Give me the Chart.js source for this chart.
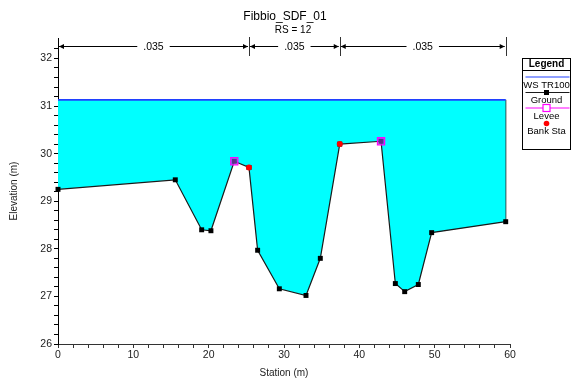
<!DOCTYPE html>
<html>
<head>
<meta charset="utf-8">
<script src="https://cdn.jsdelivr.net/npm/chart.js@4.4.1/dist/chart.umd.min.js"></script>
<style>
  html, body { margin: 0; padding: 0; background: #fff; }
  #wrap { width: 574px; height: 383px; }
</style>
</head>
<body>
<div id="wrap"><canvas id="xsChart" width="574" height="383"></canvas></div>
<script>
// cross section data
const stations   = [0, 15.57, 19.07, 20.3, 23.4, 25.35, 26.5, 29.38, 32.92, 34.82, 37.4, 42.88, 44.78, 46.02, 47.83, 49.6, 59.43];
const elevations = [29.25, 29.45, 28.40, 28.38, 29.84, 29.71, 27.97, 27.16, 27.02, 27.80, 30.20, 30.26, 27.27, 27.10, 27.25, 28.34, 28.57];
const leveeSta   = [23.4, 42.88];
const leveeElev  = [29.84, 30.26];
const bankSta    = [25.35, 37.4];
const bankElev   = [29.71, 30.20];
const wsElev     = 31.13;
const nBreaks    = [0, 25.35, 37.4, 59.43];
const nValues    = ['.035', '.035', '.035'];

const FONT = '"Liberation Sans", Arial, sans-serif';
const last = stations.length - 1;

const groundPts = stations.map((s, i) => ({ x: s, y: elevations[i] }));
const wsPts = [{ x: stations[0], y: wsElev }, { x: stations[last], y: wsElev }];
const wallPts = [{ x: stations[last], y: elevations[last] }, { x: stations[last], y: wsElev }];
const leveePts = leveeSta.map((s, i) => ({ x: s, y: leveeElev[i] }));
const bankPts = bankSta.map((s, i) => ({ x: s, y: bankElev[i] }));

function arrowHead(ctx, x, y, dir) {
  ctx.beginPath();
  ctx.moveTo(x, y);
  ctx.lineTo(x - dir * 5, y - 2.5);
  ctx.lineTo(x - dir * 5, y + 2.5);
  ctx.closePath();
  ctx.fill();
}

// manning's n bar + titles above the plot
const topTexts = {
  id: 'topTexts',
  afterDraw(chart) {
    const ctx = chart.ctx;
    const xs = chart.scales.x;
    ctx.save();
    ctx.fillStyle = '#000';
    ctx.textAlign = 'center';
    ctx.textBaseline = 'middle';
    ctx.font = '12px ' + FONT;
    ctx.fillText('Fibbio_SDF_01', 285, 17);
    ctx.font = '10px ' + FONT;
    ctx.fillText('RS = 12', 293, 30);

    const y = 46.5;
    ctx.strokeStyle = '#000';
    ctx.lineWidth = 1;
    for (let i = 0; i < nValues.length; i++) {
      const a = xs.getPixelForValue(nBreaks[i]);
      const b = xs.getPixelForValue(nBreaks[i + 1]);
      const mid = (a + b) / 2;
      ctx.font = '10.5px ' + FONT;
      const tw = ctx.measureText(nValues[i]).width / 2 + 6;
      ctx.beginPath();
      ctx.moveTo(a + 1, y); ctx.lineTo(mid - tw, y);
      ctx.moveTo(mid + tw, y); ctx.lineTo(b - 1, y);
      ctx.stroke();
      arrowHead(ctx, a + 1, y, -1);
      arrowHead(ctx, b - 1, y, 1);
      ctx.fillText(nValues[i], mid, y + 1);
    }
    ctx.strokeStyle = '#333';
    for (let i = 1; i < nBreaks.length; i++) {
      const p = Math.round(xs.getPixelForValue(nBreaks[i])) + 0.5;
      ctx.beginPath();
      ctx.moveTo(p, 37); ctx.lineTo(p, 56);
      ctx.stroke();
    }
    ctx.restore();
  }
};

// boxed legend on the right
const boxLegend = {
  id: 'boxLegend',
  afterDraw(chart) {
    const ctx = chart.ctx;
    const L = 522.5, R = 570.5, T = 58.5, B = 149.5;
    const cx = (L + R) / 2;
    ctx.save();
    ctx.fillStyle = '#fff';
    ctx.fillRect(L, T, R - L, B - T);
    ctx.strokeStyle = '#000';
    ctx.lineWidth = 1;
    ctx.strokeRect(L, T, R - L, B - T);
    ctx.beginPath(); ctx.moveTo(L, 70.5); ctx.lineTo(R, 70.5); ctx.stroke();
    ctx.fillStyle = '#000';
    ctx.textAlign = 'center';
    ctx.textBaseline = 'middle';
    ctx.font = 'bold 10px ' + FONT;
    ctx.fillText('Legend', cx, 64.5);

    const ds = chart.data.datasets;
    const rows = [
      { d: ds[0], y: 77, line: true },
      { d: ds[1], y: 92.5, line: true, mark: 'fillsq' },
      { d: ds[3], y: 108, line: true, mark: 'opensq' },
      { d: ds[4], y: 123.5, line: false, mark: 'dot' }
    ];
    rows.forEach(r => {
      if (r.line) {
        ctx.strokeStyle = r.d.borderColor;
        ctx.lineWidth = 1;
        ctx.beginPath(); ctx.moveTo(L + 3, r.y); ctx.lineTo(R - 1, r.y); ctx.stroke();
      }
      if (r.mark === 'fillsq') {
        ctx.fillStyle = '#000';
        ctx.fillRect(cx - 2.5, r.y - 2.5, 5, 5);
      } else if (r.mark === 'opensq') {
        ctx.fillStyle = '#fff';
        ctx.fillRect(cx - 3.5, r.y - 3.5, 7, 7);
        ctx.strokeStyle = r.d.pointBorderColor;
        ctx.lineWidth = 1.2;
        ctx.strokeRect(cx - 3.5, r.y - 3.5, 7, 7);
      } else if (r.mark === 'dot') {
        ctx.fillStyle = r.d.pointBackgroundColor;
        ctx.beginPath(); ctx.arc(cx, r.y, 2.8, 0, Math.PI * 2); ctx.fill();
      }
      ctx.fillStyle = '#000';
      ctx.font = '9.5px ' + FONT;
      ctx.fillText(r.d.label, cx, r.y + 8);
    });
    ctx.restore();
  }
};

const ctx = document.getElementById('xsChart').getContext('2d');
new Chart(ctx, {
  type: 'line',
  data: {
    datasets: [
      {
        label: 'WS TR100',
        data: wsPts,
        borderColor: '#2040ff',
        borderWidth: 1.6,
        pointRadius: 0,
        fill: false,
        order: 1
      },
      {
        label: 'Ground',
        data: groundPts,
        borderColor: '#1a1a1a',
        borderWidth: 1.2,
        backgroundColor: '#00ffff',
        fill: { value: wsElev },
        pointStyle: 'rect',
        pointRadius: 3.5,
        pointBackgroundColor: '#000',
        pointBorderColor: '#000',
        pointBorderWidth: 0,
        clip: false,
        order: 2
      },
      {
        label: 'wall',
        data: wallPts,
        borderColor: '#1a1a1a',
        borderWidth: 1.2,
        pointRadius: 0,
        fill: false,
        order: 3
      },
      {
        label: 'Levee',
        data: leveePts,
        showLine: false,
        borderColor: '#ff00ff',
        pointStyle: 'rect',
        pointRadius: 5,
        pointBackgroundColor: 'rgba(150,80,230,0.6)',
        pointBorderColor: '#ff00ff',
        pointBorderWidth: 1.3,
        order: 0
      },
      {
        label: 'Bank Sta',
        data: bankPts,
        showLine: false,
        borderColor: '#ff0000',
        pointStyle: 'circle',
        pointRadius: 3,
        pointBackgroundColor: '#ff0000',
        pointBorderColor: '#ff0000',
        pointBorderWidth: 0,
        order: -1
      }
    ]
  },
  options: {
    responsive: false,
    animation: false,
    layout: { padding: { top: 38, right: 64, left: 0, bottom: 0 } },
    plugins: {
      legend: { display: false },
      tooltip: { enabled: false }
    },
    elements: { line: { tension: 0 } },
    scales: {
      x: {
        type: 'linear',
        min: 0,
        max: 60,
        afterFit(s) { s.height = 39; },
        border: { display: true, color: '#333', width: 1 },
        grid: { display: true, drawOnChartArea: false, drawTicks: true, tickLength: 4, color: '#333' },
        ticks: {
          stepSize: 2,
          autoSkip: false,
          maxRotation: 0,
          padding: 1,
          color: '#222',
          font: { family: FONT, size: 10.5 },
          callback: v => (v % 10 === 0 ? v : '')
        },
        title: {
          display: true,
          text: 'Station (m)',
          color: '#222',
          font: { family: FONT, size: 10 },
          padding: { top: 0, bottom: 4 }
        }
      },
      y: {
        min: 26,
        max: 32.43,
        afterFit(s) { s.width = 58; },
        afterBuildTicks(s) {
          s.ticks = s.ticks.filter(t => Math.abs(t.value * 5 - Math.round(t.value * 5)) < 1e-6);
        },
        border: { display: true, color: '#000', width: 1 },
        grid: { display: true, drawOnChartArea: false, drawTicks: true, tickLength: 4, color: '#000' },
        ticks: {
          stepSize: 0.2,
          autoSkip: false,
          padding: 2,
          color: '#222',
          font: { family: FONT, size: 10.5 },
          callback: v => (Math.abs(v - Math.round(v)) < 1e-6 ? Math.round(v) : '')
        },
        title: {
          display: true,
          text: 'Elevation (m)',
          color: '#222',
          font: { family: FONT, size: 10 },
          padding: { top: 8, bottom: 0 }
        }
      }
    }
  },
  plugins: [topTexts, boxLegend]
});
</script>
</body>
</html>
